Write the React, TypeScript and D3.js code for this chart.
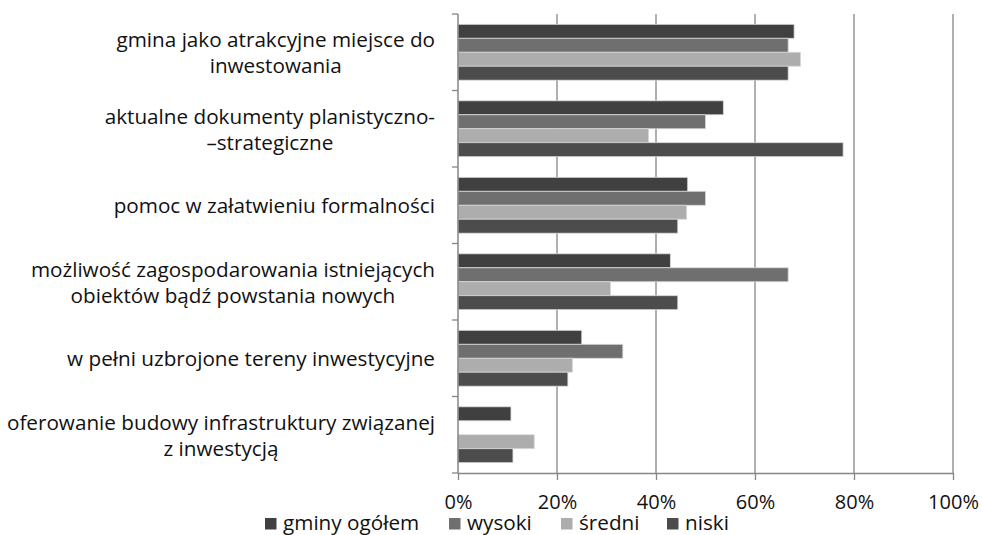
import React, { useEffect, useRef } from 'react';
import * as d3 from 'd3';

// categories (top to bottom), each line of the label is its own entry
const categories = [
  ['gmina jako atrakcyjne miejsce do', 'inwestowania'],
  ['aktualne dokumenty planistyczno-', '\u2013strategiczne'],
  ['pomoc w załatwieniu formalności'],
  ['możliwość zagospodarowania istniejących', 'obiektów bądź powstania nowych'],
  ['w pełni uzbrojone tereny inwestycyjne'],
  ['oferowanie budowy infrastruktury związanej', 'z inwestycją'],
];

const seriesNames = ['gminy ogółem', 'wysoki', 'średni', 'niski'];
const seriesColors = ['#404040', '#6f6f6f', '#adadad', '#4c4c4c'];

// percent values per series, same order as categories
const gminyOgolem = [67.9, 53.6, 46.4, 42.9, 25.0, 10.7];
const wysoki = [66.7, 50.0, 50.0, 66.7, 33.3, 0];
const sredni = [69.2, 38.5, 46.2, 30.8, 23.1, 15.4];
const niski = [66.7, 77.8, 44.4, 44.4, 22.2, 11.1];

const xTicks = [0, 20, 40, 60, 80, 100];

export default function App() {
  const svgRef = useRef<SVGSVGElement>(null);

  useEffect(() => {
    document.body.style.margin = '0';
    const w = 982;
    const h = 535;
    const left = 458;
    const right = 953;
    const top = 14;
    const bottom = 473;
    const font = '"Open Sans", Lato, sans-serif';
    const fontSize = '20.7px';
    const axisColor = '#868686';

    const svg = d3.select(svgRef.current);
    svg.selectAll('*').remove();
    svg.attr('width', w).attr('height', h).style('display', 'block');

    const series = [gminyOgolem, wysoki, sredni, niski];

    const x = d3.scaleLinear().domain([0, 100]).range([left, right]);
    const y = d3
      .scaleBand<number>()
      .domain(d3.range(categories.length))
      .range([top, bottom])
      .paddingInner(0.27)
      .paddingOuter(0.135);
    const ySub = d3
      .scaleBand<number>()
      .domain(d3.range(series.length))
      .range([0, y.bandwidth()]);

    // gridlines
    svg
      .append('g')
      .selectAll('line')
      .data(xTicks.filter(t => t > 0))
      .enter()
      .append('line')
      .attr('x1', d => x(d))
      .attr('x2', d => x(d))
      .attr('y1', top)
      .attr('y2', bottom)
      .attr('stroke', axisColor)
      .attr('stroke-width', 1.3);

    // bars
    series.forEach((vals, si) => {
      svg
        .append('g')
        .selectAll('rect')
        .data(vals)
        .enter()
        .filter(d => d > 0)
        .append('rect')
        .attr('x', x(0))
        .attr('y', (d, i) => (y(i) as number) + (ySub(si) as number))
        .attr('width', d => x(d) - x(0))
        .attr('height', ySub.bandwidth())
        .attr('fill', seriesColors[si])
        .attr('stroke', '#d8d8d8')
        .attr('stroke-width', 0.8);
    });

    // y axis line and ticks at band boundaries
    const step = y.step();
    const bounds = d3.range(categories.length + 1).map(i => top + i * step);
    svg
      .append('line')
      .attr('x1', left)
      .attr('x2', left)
      .attr('y1', top)
      .attr('y2', bottom)
      .attr('stroke', axisColor)
      .attr('stroke-width', 1.5);
    svg
      .append('g')
      .selectAll('line')
      .data(bounds)
      .enter()
      .append('line')
      .attr('x1', left - 6)
      .attr('x2', left)
      .attr('y1', d => d)
      .attr('y2', d => d)
      .attr('stroke', axisColor)
      .attr('stroke-width', 1.3);

    // x axis
    const xAxis = d3
      .axisBottom(x)
      .tickValues(xTicks)
      .tickFormat(d => `${d}%`)
      .tickSize(7)
      .tickSizeOuter(0);
    const gx = svg.append('g').attr('transform', `translate(0, ${bottom})`).call(xAxis);
    gx.select('.domain').attr('stroke', axisColor).attr('stroke-width', 1.5);
    gx.selectAll('.tick line').attr('stroke', axisColor).attr('stroke-width', 1.3);
    gx.selectAll('.tick text')
      .attr('y', 36)
      .attr('dy', null)
      .attr('fill', '#111')
      .style('font-family', font)
      .style('font-size', '20px');

    // category labels, lines centred, block right aligned
    const labelRight = 435;
    const lineH = 26;
    categories.forEach((lines, i) => {
      const cy = top + step * (i + 0.5) + 1;
      const g = svg.append('g');
      const texts = lines.map((ln, li) =>
        g
          .append('text')
          .attr('y', cy + (li - (lines.length - 1) / 2) * lineH)
          .attr('dy', '0.35em')
          .attr('text-anchor', 'middle')
          .style('font-family', font)
          .style('font-size', fontSize)
          .attr('fill', '#111')
          .text(ln)
      );
      const maxW = d3.max(texts, t => (t.node() as SVGTextElement).getComputedTextLength()) || 0;
      texts.forEach(t => t.attr('x', labelRight - maxW / 2));
    });

    // legend
    const legendX = [265, 449, 561, 667];
    const lg = svg.append('g');
    seriesNames.forEach((name, i) => {
      lg.append('rect')
        .attr('x', legendX[i])
        .attr('y', 518)
        .attr('width', 11.5)
        .attr('height', 11.5)
        .attr('fill', seriesColors[i]);
      lg.append('text')
        .attr('x', legendX[i] + 18)
        .attr('y', 529.5)
        .style('font-family', font)
        .style('font-size', fontSize)
        .attr('fill', '#111')
        .text(name);
    });
  }, []);

  return (
    <div>
      <svg ref={svgRef}></svg>
    </div>
  );
}
